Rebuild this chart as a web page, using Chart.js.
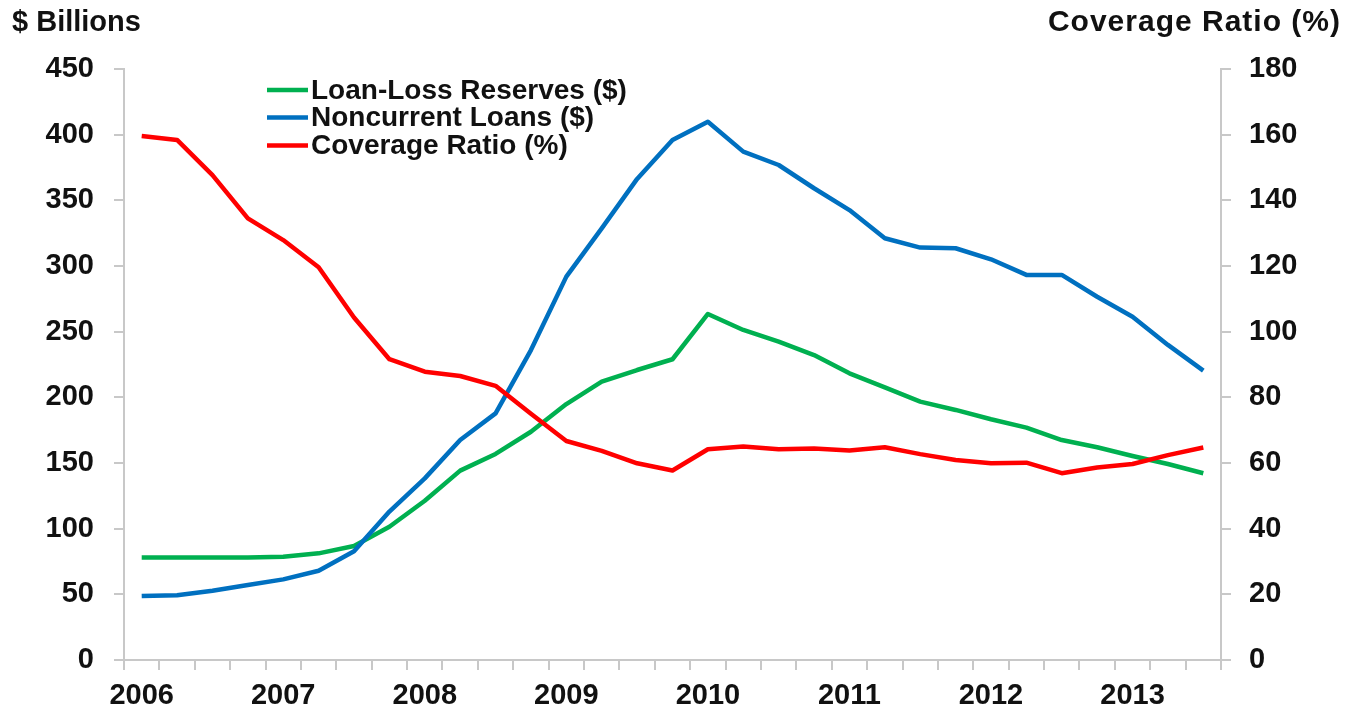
<!DOCTYPE html>
<html>
<head>
<meta charset="utf-8">
<script src="https://cdn.jsdelivr.net/npm/chart.js@4.4.1/dist/chart.umd.min.js"></script>
<style>
  html, body { margin: 0; padding: 0; background: #ffffff; overflow: hidden; }
  #wrap { width: 1359px; height: 712px; }
</style>
</head>
<body>
<div id="wrap"><canvas id="c" width="1359" height="712"></canvas></div>
<script>
// ---- Data (quarterly, 2006 Q1 - 2013 Q3) ----
const quarters = [
  '2006Q1','2006Q2','2006Q3','2006Q4',
  '2007Q1','2007Q2','2007Q3','2007Q4',
  '2008Q1','2008Q2','2008Q3','2008Q4',
  '2009Q1','2009Q2','2009Q3','2009Q4',
  '2010Q1','2010Q2','2010Q3','2010Q4',
  '2011Q1','2011Q2','2011Q3','2011Q4',
  '2012Q1','2012Q2','2012Q3','2012Q4',
  '2013Q1','2013Q2','2013Q3'
];
const loanLossReserves = [
  78, 78, 78, 78,
  78.7, 81.2, 86.8, 101.5,
  121.3, 144.2, 156.9, 173.8,
  194.9, 211.9, 220.8, 229,
  263.5, 251.3, 242.4, 232.2,
  218.3, 207.6, 196.7, 190.4,
  183.3, 176.9, 167.5, 162,
  155.3, 149.2, 142.2
];
const noncurrentLoans = [
  48.7, 49.3, 52.8, 57.1,
  61.4, 68, 82.8, 113,
  138.3, 167.5, 187.8, 236,
  291.9, 328.7, 366.3, 396,
  409.9, 387.1, 376.9, 359.2,
  342.6, 321.1, 314, 313.5,
  305.1, 293.2, 293.2, 276.6,
  261.4, 239.9, 220.3
];
const coverageRatio = [
  159.6, 158.4, 147.7, 134.5,
  127.9, 119.6, 104.3, 91.6,
  87.8, 86.5, 83.5, 75,
  66.7, 63.7, 59.9, 57.7,
  64.2, 65.0, 64.2, 64.4,
  63.8, 64.8, 62.7, 60.9,
  59.9, 60.1, 56.9, 58.6,
  59.7, 62.4, 64.7
];
const seriesNames = ['Loan-Loss Reserves ($)', 'Noncurrent Loans ($)', 'Coverage Ratio (%)'];
const seriesColors = ['#00B050', '#0070C0', '#FF0000'];
const leftTitle = '$ Billions';
const rightTitle = 'Coverage Ratio (%)';

const FONT = "'Liberation Sans', Arial, Helvetica, sans-serif";
const AXIS_COLOR = '#c8c8c8';
const TEXT_COLOR = '#111111';

const titlesPlugin = {
  id: 'titles',
  afterDraw(chart) {
    const ctx = chart.ctx;
    ctx.save();
    ctx.fillStyle = TEXT_COLOR;
    ctx.textBaseline = 'middle';
    ctx.font = 'bold 29px ' + FONT;
    ctx.textAlign = 'left';
    ctx.fillText(leftTitle, 12, 23);
    ctx.font = 'bold 30px ' + FONT;
    ctx.textAlign = 'right';
    if ('letterSpacing' in ctx) ctx.letterSpacing = '1px';
    ctx.fillText(rightTitle, 1341, 23);
    ctx.restore();
  }
};

const legendPlugin = {
  id: 'customLegend',
  afterDraw(chart) {
    const ctx = chart.ctx;
    ctx.save();
    ctx.font = 'bold 28px ' + FONT;
    ctx.textBaseline = 'middle';
    ctx.textAlign = 'left';
    const x0 = 267, x1 = 308, tx = 311;
    const ys = [90, 117.5, 145.5];
    chart.data.datasets.forEach((ds, i) => {
      ctx.strokeStyle = ds.borderColor;
      ctx.lineWidth = 4.5;
      ctx.lineCap = 'butt';
      ctx.beginPath();
      ctx.moveTo(x0, ys[i]);
      ctx.lineTo(x1, ys[i]);
      ctx.stroke();
      ctx.fillStyle = TEXT_COLOR;
      ctx.fillText(ds.label, tx, ys[i] + 1);
    });
    ctx.restore();
  }
};

new Chart(document.getElementById('c'), {
  type: 'line',
  data: {
    labels: quarters,
    datasets: [
      { label: seriesNames[0], data: loanLossReserves, yAxisID: 'y', borderColor: seriesColors[0], backgroundColor: seriesColors[0], order: 2 },
      { label: seriesNames[1], data: noncurrentLoans, yAxisID: 'y', borderColor: seriesColors[1], backgroundColor: seriesColors[1], order: 1 },
      { label: seriesNames[2], data: coverageRatio, yAxisID: 'y2', borderColor: seriesColors[2], backgroundColor: seriesColors[2], order: 0 }
    ]
  },
  options: {
    responsive: false,
    animation: false,
    devicePixelRatio: 1,
    layout: { padding: { top: 69, left: 0, right: 0, bottom: 0 } },
    elements: {
      line: { borderWidth: 4.5, tension: 0, borderJoinStyle: 'round', borderCapStyle: 'butt', fill: false },
      point: { radius: 0, hoverRadius: 0 }
    },
    plugins: { legend: { display: false }, tooltip: { enabled: false } },
    scales: {
      x: {
        type: 'category',
        offset: true,
        grid: { display: true, offset: true, drawOnChartArea: false, drawTicks: true, tickLength: 10, color: AXIS_COLOR, lineWidth: 2 },
        border: { display: true, color: AXIS_COLOR, width: 2 },
        ticks: {
          autoSkip: false, maxRotation: 0, minRotation: 0, padding: 9,
          color: TEXT_COLOR, font: { family: FONT, size: 29, weight: 'bold' },
          callback: function(value, index) {
            const q = this.getLabelForValue(value);
            return q.endsWith('Q1') ? q.slice(0, 4) : '';
          }
        },
        afterFit(s) { s.height = 52; }
      },
      y: {
        position: 'left', min: 0, max: 450,
        grid: { drawOnChartArea: false, drawTicks: true, tickLength: 10, color: AXIS_COLOR, lineWidth: 2 },
        border: { display: true, color: AXIS_COLOR, width: 2 },
        ticks: { stepSize: 50, padding: 20, color: TEXT_COLOR, font: { family: FONT, size: 29, weight: 'bold' } },
        afterFit(s) { s.width = 124; }
      },
      y2: {
        position: 'right', min: 0, max: 180,
        grid: { drawOnChartArea: false, drawTicks: true, tickLength: 10, color: AXIS_COLOR, lineWidth: 2 },
        border: { display: true, color: AXIS_COLOR, width: 2 },
        ticks: { stepSize: 20, padding: 18, color: TEXT_COLOR, font: { family: FONT, size: 29, weight: 'bold' } },
        afterFit(s) { s.width = 138; }
      }
    }
  },
  plugins: [titlesPlugin, legendPlugin]
});
</script>
</body>
</html>
